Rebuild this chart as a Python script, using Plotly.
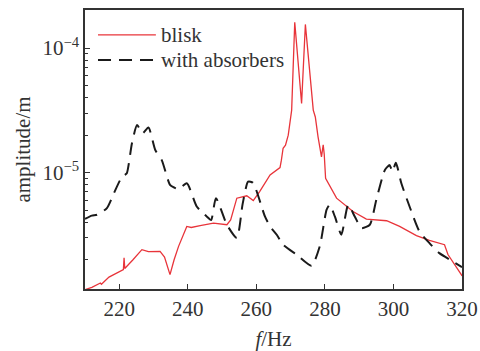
import plotly.graph_objects as go

# blisk (red)
blisk_f = [210, 212, 214.5, 214.8, 217, 221.2, 221.4, 221.6, 224, 226.6, 228.5, 231.9, 233.2, 234.8,
           236, 237.3, 239.7, 241, 243.6, 247.5, 251.4, 252.5, 254.3, 257.2, 259.1, 261, 264, 266.9,
           267.3, 267.6, 267.8, 268.5, 269.3, 270.3, 271.2, 273.2, 274.3, 276.6, 277.2, 278.0, 279.0,
           279.5, 279.8, 280.2, 283.4, 288.2, 292.1, 298, 301.8, 306.7, 310.5, 314.9, 315.9, 319.8, 320]
blisk_a = [1.15e-6, 1.2e-6, 1.30e-6, 1.27e-6, 1.45e-6, 1.67e-6, 2.07e-6, 1.70e-6, 2.0e-6, 2.41e-6,
           2.32e-6, 2.33e-6, 2.1e-6, 1.52e-6, 2.0e-6, 2.56e-6, 3.70e-6, 3.63e-6, 3.76e-6, 3.94e-6,
           3.82e-6, 4.17e-6, 6.24e-6, 6.52e-6, 5.97e-6, 7.08e-6, 9.6e-6, 1.10e-5, 1.26e-5, 1.41e-5,
           1.57e-5, 1.66e-5, 2.0e-5, 3.18e-5, 1.61e-4, 3.59e-5, 1.55e-4, 3.18e-5, 2.8e-5, 1.94e-5,
           1.34e-5, 1.67e-5, 1.41e-5, 9.0e-6, 6.24e-6, 4.88e-6, 4.24e-6, 4.11e-6, 3.70e-6, 3.12e-6,
           2.86e-6, 2.64e-6, 2.20e-6, 1.52e-6, 1.48e-6]

# with absorbers (black dashed)
abs_f = [210, 212, 213.5, 216.4, 218.5, 220.3, 221.5, 222.2, 223.7, 225.2, 226.8, 228.5, 230.5, 232.4,
         234.8, 236, 237.3, 239.7, 242.6, 245.5, 246.8, 248.2, 251.4, 254.3, 256, 257.6, 259, 262.5,
         264, 266, 267.8, 271.7, 276.1, 278.5, 280.5, 281.4, 282.9, 284.8, 286.8, 288.7, 290.7, 293.1,
         295, 297.5, 298.9, 299.7, 300.7, 302.3, 304.7, 307.6, 310.5, 313.4, 317.3, 320]
abs_a = [4.25e-6, 4.52e-6, 4.59e-6, 5.19e-6, 6.9e-6, 8.75e-6, 9.55e-6, 9.89e-6, 1.72e-5, 2.41e-5,
         2.07e-5, 2.31e-5, 1.52e-5, 1.26e-5, 7.98e-6, 7.6e-6, 7.36e-6, 8.22e-6, 5.35e-6, 4.45e-6,
         4.17e-6, 6.24e-6, 3.82e-6, 2.99e-6, 5.62e-6, 8.47e-6, 8.3e-6, 4.45e-6, 3.70e-6, 3.16e-6,
         2.64e-6, 2.20e-6, 1.79e-6, 2.56e-6, 5.04e-6, 5.52e-6, 4.45e-6, 3.18e-6, 5.52e-6, 4.45e-6,
         3.59e-6, 3.82e-6, 6.05e-6, 1.05e-5, 1.15e-5, 1.02e-5, 1.20e-5, 8.22e-6, 5.35e-6, 3.37e-6,
         2.72e-6, 2.26e-6, 1.94e-6, 1.74e-6]

series_names = ["blisk", "with absorbers"]
x_ticks = [220, 240, 260, 280, 300, 320]
y_ticks = [1e-5, 1e-4]
y_ticktext = ["10<sup>−5</sup>", "10<sup>−4</sup>"]
y_minor = [k * 10.0 ** e for e in (-6, -5, -4) for k in range(1, 10)]

FONT = "Liberation Serif"
AX = "#333333"
RED = "#e8343a"
BLK = "#1a1a1a"
DASH = "13px,8px"

fig = go.Figure()
fig.add_trace(go.Scatter(x=blisk_f, y=blisk_a, mode="lines", name=series_names[0],
                         line=dict(color=RED, width=1.3), showlegend=False))
fig.add_trace(go.Scatter(x=abs_f, y=abs_a, mode="lines", name=series_names[1],
                         line=dict(color=BLK, width=2, dash=DASH, shape="spline", smoothing=0.6),
                         showlegend=False))

# custom legend (longer sample lines, like the reference)
legend_rows = [(0.9106, RED, 1.3, "solid"), (0.821, BLK, 2, DASH)]
for name, (yp, col, w, d) in zip(series_names, legend_rows):
    fig.add_shape(type="line", xref="paper", yref="paper", x0=0.0345, x1=0.188, y0=yp, y1=yp,
                  line=dict(color=col, width=w, dash=d))
    fig.add_annotation(xref="paper", yref="paper", x=0.197, y=yp, xanchor="left", yanchor="middle",
                       text=name, showarrow=False, font=dict(family=FONT, size=21, color=AX))

fig.update_layout(
    width=480, height=351,
    margin=dict(l=85, r=18, t=10, b=62, autoexpand=False),
    paper_bgcolor="white", plot_bgcolor="white",
    font=dict(family=FONT, size=21, color=AX),
    showlegend=False,
)
fig.update_xaxes(
    range=[210, 320], tickvals=x_ticks, ticks="inside", ticklen=5, tickcolor=AX,
    showline=True, linecolor=AX, linewidth=1.5, mirror=True, showgrid=False, zeroline=False,
    automargin=False,
    tickfont=dict(family=FONT, size=21, color=AX),
    title=dict(text="<i>f</i>/Hz", font=dict(family=FONT, size=21, color=AX), standoff=12),
)
fig.update_yaxes(
    type="log", range=[-5.934, -3.694], tickvals=y_ticks, ticktext=y_ticktext,
    ticks="inside", ticklen=5, tickcolor=AX,
    minor=dict(tickvals=y_minor, ticks="inside", ticklen=3, tickcolor=AX, showgrid=False),
    showline=True, linecolor=AX, linewidth=1.5, mirror=True, showgrid=False, zeroline=False,
    automargin=False,
    tickfont=dict(family=FONT, size=21, color=AX),
    title=dict(text="amplitude/m", font=dict(family=FONT, size=21, color=AX), standoff=6),
)

fig.write_html("out.html")
